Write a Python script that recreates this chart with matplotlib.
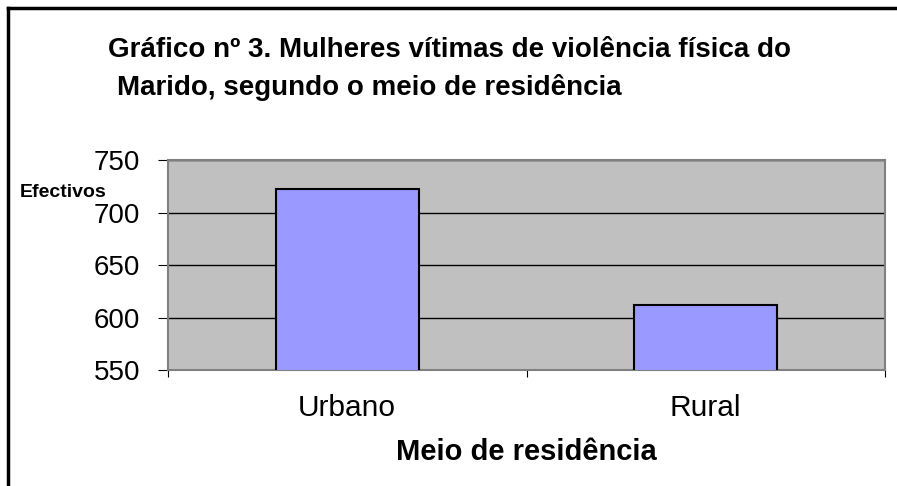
import matplotlib.pyplot as plt
from matplotlib.lines import Line2D

plt.rcParams['font.family'] = ['Liberation Sans', 'DejaVu Sans']

# --- data ---
categories = ["Urbano", "Rural"]
efectivos = [722, 612]

fig = plt.figure(figsize=(8.97, 4.86), dpi=100)

# border: only top and left edges visible
fig.lines.append(Line2D([8/897, 1], [1 - 8/486, 1 - 8/486], transform=fig.transFigure,
                        color="black", linewidth=2.5))
fig.lines.append(Line2D([8/897, 8/897], [0, 1 - 8/486], transform=fig.transFigure,
                        color="black", linewidth=2.5))

ax = fig.add_axes([168/897, 1 - 370/486, 717/897, 210/486])
ax.set_facecolor("#C0C0C0")

x = range(len(categories))
ax.bar(x, efectivos, width=0.4, color="#9999FF", edgecolor="black", linewidth=1.5, zorder=3)

ax.set_ylim(550, 750)
ax.set_xlim(-0.5, 1.5)
ax.set_yticks([550, 600, 650, 700, 750])
ax.yaxis.grid(True, color="black", linewidth=1)
ax.set_axisbelow(True)

# ticks between categories, labels at bar centres
ax.set_xticks([-0.5, 0.5, 1.5])
ax.set_xticklabels([])
ax.set_xticks(list(x), minor=True)
ax.set_xticklabels(categories, minor=True)
ax.tick_params(axis="x", which="minor", length=0, labelsize=21.5, pad=17)
ax.tick_params(axis="x", which="major", length=5, color="black")
ax.tick_params(axis="y", length=7, labelsize=20, pad=13, color="black")

for side in ["top", "right", "left", "bottom"]:
    ax.spines[side].set_color("#808080")
    ax.spines[side].set_linewidth(1.5)

ax.set_xlabel("Meio de residência", fontsize=21, fontweight="bold", labelpad=12)

fig.text(20/897, 1 - 197/486, "Efectivos", fontsize=14, fontweight="bold", ha="left", va="baseline")

fig.text(108/897, 1 - 57/486, "Gráfico nº 3. Mulheres vítimas de violência física do",
         fontsize=20, fontweight="bold", ha="left", va="baseline")
fig.text(117/897, 1 - 95/486, "Marido, segundo o meio de residência",
         fontsize=20, fontweight="bold", ha="left", va="baseline")

plt.savefig("out.png", dpi=100)
